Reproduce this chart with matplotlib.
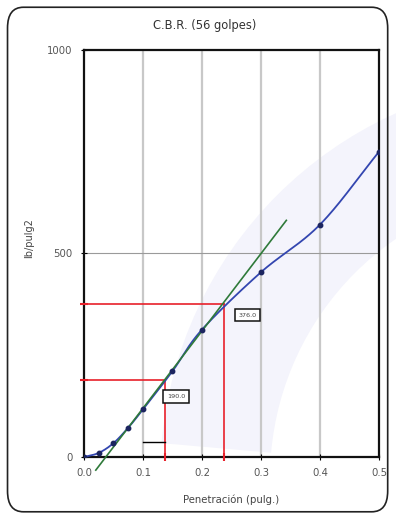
import numpy as np
import matplotlib
matplotlib.use("Agg")
import matplotlib.pyplot as plt
from matplotlib.patches import FancyBboxPatch, Wedge

plt.rcParams['font.family'] = ['DejaVu Sans']

# Penetration test readings (56 blows)
penetration = [0.0, 0.025, 0.05, 0.075, 0.1, 0.15, 0.2, 0.3, 0.4, 0.5]
load = [0, 10, 34, 72, 117, 211, 313, 454, 571, 750]

# Corrected readings at 0.1" and 0.2" after shifting the origin
tangent_origin = 0.037
corrected_pen = [0.137, 0.237]
corrected_load = [190.0, 376.0]
tangent_span = [0.02, 0.343]
offset_level = 38

x_ticks = [0.0, 0.1, 0.2, 0.3, 0.4, 0.5]
x_tick_labels = ["0.0", "0.1", "0.2", "0.3", "0.4", "0.5"]
y_ticks = [0, 500, 1000]
y_tick_labels = ["0", "500", "1000"]


def catmull_rom(xs, ys, n=40):
    xs = np.asarray(xs, float)
    ys = np.asarray(ys, float)
    px = np.concatenate([[2 * xs[0] - xs[1]], xs, [2 * xs[-1] - xs[-2]]])
    py = np.concatenate([[2 * ys[0] - ys[1]], ys, [2 * ys[-1] - ys[-2]]])
    out_x, out_y = [], []
    t = np.linspace(0, 1, n)
    for i in range(1, len(px) - 2):
        p0x, p1x, p2x, p3x = px[i - 1:i + 3]
        p0y, p1y, p2y, p3y = py[i - 1:i + 3]
        for arr, a, b, c, d in ((out_x, p0x, p1x, p2x, p3x), (out_y, p0y, p1y, p2y, p3y)):
            arr.extend(0.5 * ((2 * b) + (-a + c) * t + (2 * a - 5 * b + 4 * c - d) * t ** 2
                              + (-a + 3 * b - 3 * c + d) * t ** 3))
    return np.array(out_x), np.array(out_y)


fig = plt.figure(figsize=(3.96, 5.18), dpi=100)
fig.patch.set_facecolor('white')

# faint background swoosh (pixel coordinates of the figure)
fig.patches.append(Wedge((560, 40), 400, 95, 175, width=110, transform=None,
                         facecolor='#f4f4fc', edgecolor='none', zorder=-5))

# rounded frame
fig.patches.append(FancyBboxPatch((0.019, 0.012), 0.96, 0.974,
                                  boxstyle="round,pad=0,rounding_size=0.04",
                                  transform=fig.transFigure, facecolor='none',
                                  edgecolor='#222222', linewidth=1.2, zorder=5))

ax = fig.add_axes([0.2121, 0.1178, 0.7449, 0.7857])
ax.set_facecolor('none')
ax.set_xlim(0, 0.5)
ax.set_ylim(0, 1000)

for xv in x_ticks[1:-1]:
    ax.axvline(xv, color='#c8c8c8', linewidth=1.6, zorder=1)
ax.axhline(500, color='#9a9a9a', linewidth=0.8, zorder=1)

# smoothed load curve
cx, cy = catmull_rom(penetration, load)
ax.plot(cx, cy, color='#3346b0', linewidth=1.3, zorder=3)
ax.plot(penetration, load, 'o', color='#1c2560', markersize=3.2, zorder=4)

# tangent to the straight portion
tx = np.array(tangent_span)
slope = corrected_load[0] / (corrected_pen[0] - tangent_origin)
ax.plot(tx, slope * (tx - tangent_origin), color='#2f7a3a', linewidth=1.2,
        zorder=3.5, clip_on=False)

# correction marker between 0.1 and corrected penetration
ax.plot([0.1, corrected_pen[0]], [offset_level, offset_level], color='black', linewidth=1.0, zorder=3)

# corrected reading guides
for px_, py_ in zip(corrected_pen, corrected_load):
    ax.plot([0, px_], [py_, py_], color='#e8202a', linewidth=1.2, zorder=2.5)
    ax.plot([px_, px_], [0, py_], color='#e8202a', linewidth=1.2, zorder=2.5)
    ax.plot([0], [py_], marker='_', color='#e8202a', markersize=6, mew=1.5, clip_on=False, zorder=5)
    ax.plot([px_], [0], marker='|', color='#e8202a', markersize=6, mew=1.5, clip_on=False, zorder=5)

label_offsets = [(8, -12), (17, -8)]
for px_, py_, off in zip(corrected_pen, corrected_load, label_offsets):
    ax.annotate(f"{py_:.1f}", xy=(px_, py_), xytext=off, textcoords='offset points',
                ha='center', va='center', fontsize=4.6, color='#444444', zorder=6,
                bbox=dict(boxstyle='square,pad=0.6', facecolor='white',
                          edgecolor='#111111', linewidth=1.1))

for sp in ax.spines.values():
    sp.set_linewidth(1.6)
    sp.set_color('#111111')

ax.set_xticks(x_ticks)
ax.set_xticklabels(x_tick_labels)
ax.set_yticks(y_ticks)
ax.set_yticklabels(y_tick_labels)
ax.tick_params(axis='both', direction='inout', length=4, width=0.8, labelsize=7.3,
               labelcolor='#555555')
ax.tick_params(axis='x', pad=6)
ax.tick_params(axis='y', pad=6)

ax.set_xlabel("Penetración (pulg.)", fontsize=7.3, color='#444444', labelpad=12)
fig.text(29 / 396, 1 - 238 / 518, "lb/pulg2", rotation=90, ha='center', va='center',
         fontsize=7.0, color='#444444')
fig.text(205 / 396, 1 - 25 / 518, "C.B.R. (56 golpes)", ha='center', va='center',
         fontsize=8.3, color='#333333')

fig.savefig("out.png", dpi=100)
